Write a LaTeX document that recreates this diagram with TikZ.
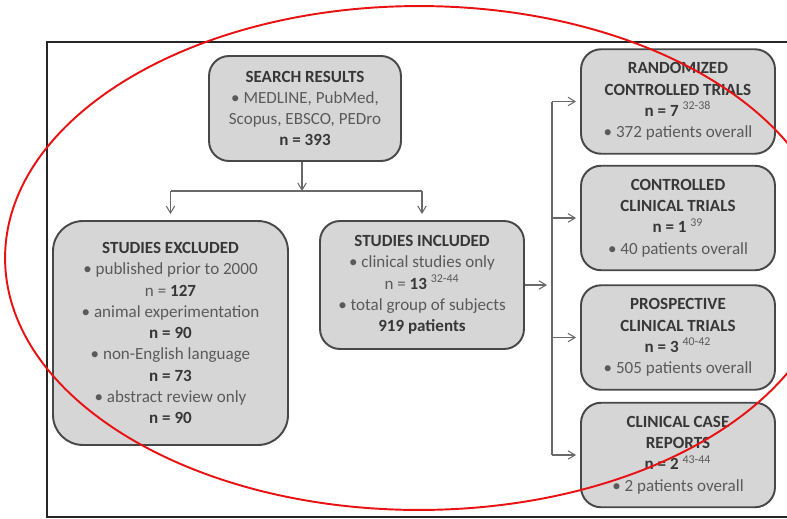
\documentclass[tikz,border=0pt]{standalone}
\usepackage{fontspec}
\setmainfont{Carlito}
\usetikzlibrary{arrows.meta,positioning,calc}
\definecolor{boxfill}{RGB}{214,214,214}
\definecolor{boxline}{RGB}{72,72,72}
\definecolor{headgray}{RGB}{55,55,55}
\definecolor{txtgray}{RGB}{90,90,90}
\definecolor{wiregray}{RGB}{105,105,105}
\definecolor{markred}{RGB}{232,18,18}
\newcommand{\hd}[1]{\textbf{\color{headgray}#1}}

\begin{document}
\begin{tikzpicture}[
      x=0.02cm, y=-0.02cm,
      box/.style={draw=boxline, line width=1.1pt, fill=boxfill, rounded corners=0.4cm,
                  align=center, text=txtgray, inner sep=0pt,
                  font=\fontsize{9.7}{12.1}\selectfont},
      sidebox/.style={box, minimum width=3.88cm, minimum height=2.09cm},
      wire/.style={draw=wiregray, line width=0.6pt},
      arr/.style={wire, -{Straight Barb[length=4pt,width=4.8pt]}},
      frame/.style={draw=black!85, line width=1.3pt}
    ]
      \useasboundingbox (0,0) rectangle (787,518);

      % outer frame (open on the right)
      \draw[frame] (787,42) -- (47,42) -- (47,517) -- (787,517);

      % left part
      \node[box, minimum width=3.84cm, minimum height=2.1cm] (search) at (305,108.5)
        {\hd{SEARCH RESULTS}\\• MEDLINE, PubMed,\\Scopus, EBSCO, PEDro\\\hd{n = 393}};
      \node[box, rounded corners=0.6cm, minimum width=4.7cm, minimum height=4.48cm] (excl) at (170.5,333)
        {\hd{STUDIES EXCLUDED}\\• published prior to 2000\\n = \hd{127}\\• animal experimentation\\\hd{n = 90}\\
         • non-English language\\\hd{n = 73}\\• abstract review only\\\hd{n = 90}};
      \node[box, minimum width=4.08cm, minimum height=2.56cm] (incl) at (422,285)
        {\hd{STUDIES INCLUDED}\\• clinical studies only\\n = \hd{13} \textsuperscript{32-44}\\• total group of subjects\\\hd{919 patients}};

      % right column
      \node[sidebox] (rct) at (678,101.5)
        {\hd{RANDOMIZED}\\\hd{CONTROLLED TRIALS}\\\hd{n = 7} \textsuperscript{32-38}\\• 372 patients overall};
      \node[sidebox] (cct) at (678,218)
        {\hd{CONTROLLED}\\\hd{CLINICAL TRIALS}\\\hd{n = 1} \textsuperscript{39}\\• 40 patients overall};
      \node[sidebox] (pct) at (678,337.5)
        {\hd{PROSPECTIVE}\\\hd{CLINICAL TRIALS}\\\hd{n = 3} \textsuperscript{40-42}\\• 505 patients overall};
      \node[sidebox] (ccr) at (678,455)
        {\hd{CLINICAL CASE}\\\hd{REPORTS}\\\hd{n = 2} \textsuperscript{43-44}\\• 2 patients overall};

      % split below search
      \coordinate (split) at (302,191);
      \coordinate (bus) at (552,285);
      \draw[arr] (split |- search.south) -- (split);
      \draw[wire] (excl.north |- split) -- (incl.north |- split);
      \draw[arr, shorten >=0.12cm] (excl.north |- split) -- (excl.north);
      \draw[arr, shorten >=0.12cm] (incl.north |- split) -- (incl.north);

      % fan out to the trial types
      \draw[arr, shorten >=0.1cm] (incl.east) -- (bus);
      \draw[wire] (bus |- rct.west) -- (bus |- ccr.west);
      \foreach \t in {rct,cct,pct,ccr}
        \draw[arr, shorten >=0.08cm] (bus |- \t.west) -- (\t.west);

      % red marking
      \draw[markred, line width=1.1pt] (419,258) ellipse [x radius=8.28cm, y radius=5.04cm];
    \end{tikzpicture}
\end{document}
